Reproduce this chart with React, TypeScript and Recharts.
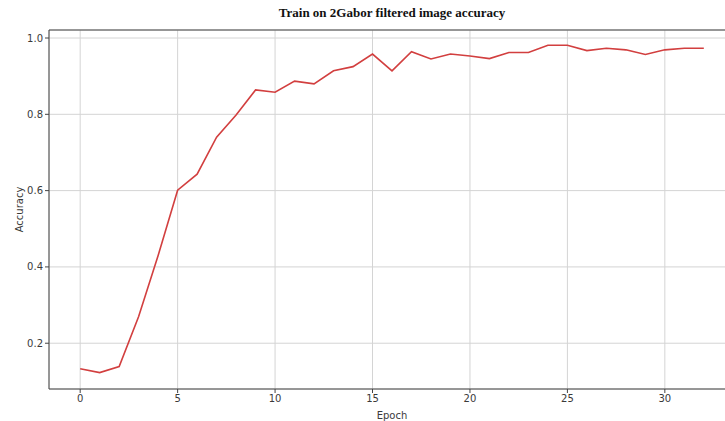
import React from "react";
import {
  LineChart,
  Line,
  XAxis,
  YAxis,
  CartesianGrid,
  ReferenceLine,
} from "recharts";

const epochs = [
  0, 1, 2, 3, 4, 5, 6, 7, 8, 9, 10, 11, 12, 13, 14, 15, 16, 17, 18, 19, 20,
  21, 22, 23, 24, 25, 26, 27, 28, 29, 30, 31, 32,
];
const accuracy = [
  0.133, 0.123, 0.139, 0.27, 0.43, 0.601, 0.643, 0.74, 0.798, 0.864, 0.858,
  0.887, 0.88, 0.914, 0.925, 0.958, 0.914, 0.964, 0.945, 0.958, 0.953, 0.946,
  0.962, 0.962, 0.981, 0.981, 0.967, 0.973, 0.969, 0.957, 0.969, 0.973, 0.973,
];
const xTicks = [0, 5, 10, 15, 20, 25, 30];
const yTicks = [0.2, 0.4, 0.6, 0.8, 1.0];
const xDomain = [-1.6, 33.6];
const yDomain = [0.08, 1.021];
const title = "Train on 2Gabor filtered image accuracy";
const xLabel = "Epoch";
const yLabel = "Accuracy";

const data = epochs.map((e, i) => ({ epoch: e, acc: accuracy[i] }));

const tickStyle = { fill: "#3a3a3a", fontSize: 10, fontFamily: "DejaVu Sans" };

const YLabel = (props: any) => {
  const vb = props.viewBox || { x: 0, y: 0, width: 0, height: 0 };
  const cx = 19;
  const cy = vb.y + vb.height / 2;
  return (
    <text
      x={cx}
      y={cy}
      transform={`rotate(-90 ${cx} ${cy})`}
      textAnchor="middle"
      dominantBaseline="central"
      fill="#3a3a3a"
      fontSize={10}
      fontFamily="DejaVu Sans"
    >
      {yLabel}
    </text>
  );
};

const XLabel = (props: any) => {
  const vb = props.viewBox || { x: 0, y: 0, width: 0, height: 0 };
  const cx = vb.x + vb.width / 2;
  const cy = 415;
  return (
    <text
      x={cx}
      y={cy}
      textAnchor="middle"
      dominantBaseline="central"
      fill="#3a3a3a"
      fontSize={10}
      fontFamily="DejaVu Sans"
    >
      {xLabel}
    </text>
  );
};

export default function App() {
  return (
    <div
      style={{
        position: "absolute",
        left: 0,
        top: 0,
        width: 725,
        height: 421,
        overflow: "hidden",
        background: "#fff",
      }}
    >
      <div
        style={{
          position: "absolute",
          left: 0,
          top: 5,
          width: 784,
          textAlign: "center",
          fontFamily: "Liberation Serif",
          fontWeight: "bold",
          fontSize: 13,
          color: "#111",
        }}
      >
        {title}
      </div>
      <LineChart
        width={745}
        height={421}
        data={data}
        margin={{ top: 30, right: 10, left: 0, bottom: 0 }}
      >
        <CartesianGrid stroke="#d4d4d4" strokeWidth={1} />
        <XAxis
          dataKey="epoch"
          type="number"
          domain={xDomain}
          ticks={xTicks}
          allowDataOverflow
          height={32}
          tick={tickStyle}
          tickSize={4}
          tickMargin={2}
          stroke="#444"
          tickLine={{ stroke: "#444" }}
          label={<XLabel />}
        />
        <YAxis
          type="number"
          domain={yDomain}
          ticks={yTicks}
          allowDataOverflow
          width={49}
          tick={tickStyle}
          tickSize={4}
          tickMargin={2}
          stroke="#444"
          tickLine={{ stroke: "#444" }}
          tickFormatter={(v: number) => v.toFixed(1)}
          label={<YLabel />}
        />
        <ReferenceLine y={yDomain[1]} stroke="#444" strokeWidth={1} />
        <Line
          type="linear"
          dataKey="acc"
          stroke="#d23f3f"
          strokeWidth={1.6}
          dot={false}
          isAnimationActive={false}
        />
      </LineChart>
    </div>
  );
}
